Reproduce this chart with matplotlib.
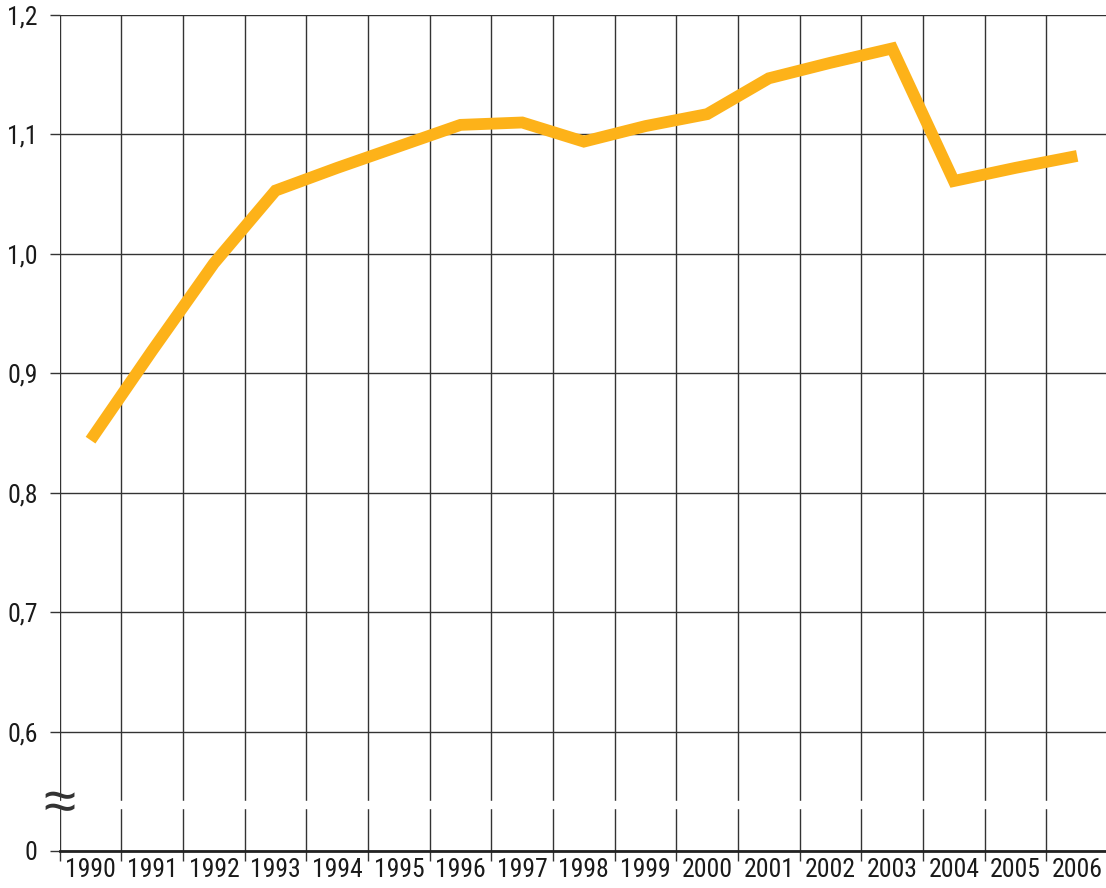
import numpy as np
import matplotlib.pyplot as plt
from matplotlib.ticker import FixedLocator, FixedFormatter

plt.rcParams['font.family'] = ['Roboto Condensed', 'Liberation Sans Narrow', 'Liberation Sans', 'DejaVu Sans']

years = list(range(1990, 2007))
values = [0.844, 0.919, 0.992, 1.053, 1.072, 1.090, 1.108, 1.110, 1.094,
          1.107, 1.117, 1.147, 1.160, 1.172, 1.061, 1.072, 1.082]
ytick_vals = [0.5, 0.6, 0.7, 0.8, 0.9, 1.0, 1.1, 1.2]
ytick_labels = ['0', '0,6', '0,7', '0,8', '0,9', '1,0', '1,1', '1,2']

grid_col = '#333333'
text_col = '#1a1a1a'

fig = plt.figure(figsize=(11.06, 8.88), dpi=100)
ax = fig.add_axes([0.054, 0.0417, 0.9478, 0.9414])

ax.set_xlim(1989.5, 2006.5)
ax.set_ylim(0.5, 1.2)

# grid lines sit on year boundaries, labels in the middle
bounds = [y - 0.5 for y in years] + [years[-1] + 0.5]
ax.xaxis.set_major_locator(FixedLocator(years))
ax.xaxis.set_major_formatter(FixedFormatter([str(y) for y in years]))
ax.xaxis.set_minor_locator(FixedLocator(bounds))
ax.tick_params(axis='x', which='major', length=0, pad=5, labelsize=18.5, labelcolor=text_col)
ax.tick_params(axis='x', which='minor', length=7, width=1, color=grid_col, direction='out')
ax.grid(True, axis='x', which='minor', color=grid_col, linewidth=1.0)

ax.yaxis.set_major_locator(FixedLocator(ytick_vals))
ax.yaxis.set_major_formatter(FixedFormatter(ytick_labels))
ax.tick_params(axis='y', length=7, width=1, color=grid_col, pad=9, labelsize=18.5, labelcolor=text_col)
ax.grid(True, axis='y', which='major', color=grid_col, linewidth=1.0)

for s in ['top', 'right', 'left']:
    ax.spines[s].set_visible(False)
ax.spines['bottom'].set_color('#222222')
ax.spines['bottom'].set_linewidth(2.0)

ax.plot(years, values, color='#FDB219', linewidth=8.5,
        solid_capstyle='butt', solid_joinstyle='miter', zorder=5)

# axis break
ax.axhspan(0.536, 0.5415, color='white', zorder=3)
ax.text(1989.5, 0.5385, '\u2248', ha='center', va='center', fontsize=42,
        color='#333333', family='Liberation Sans', zorder=6)

fig.savefig('out.png', dpi=100)
